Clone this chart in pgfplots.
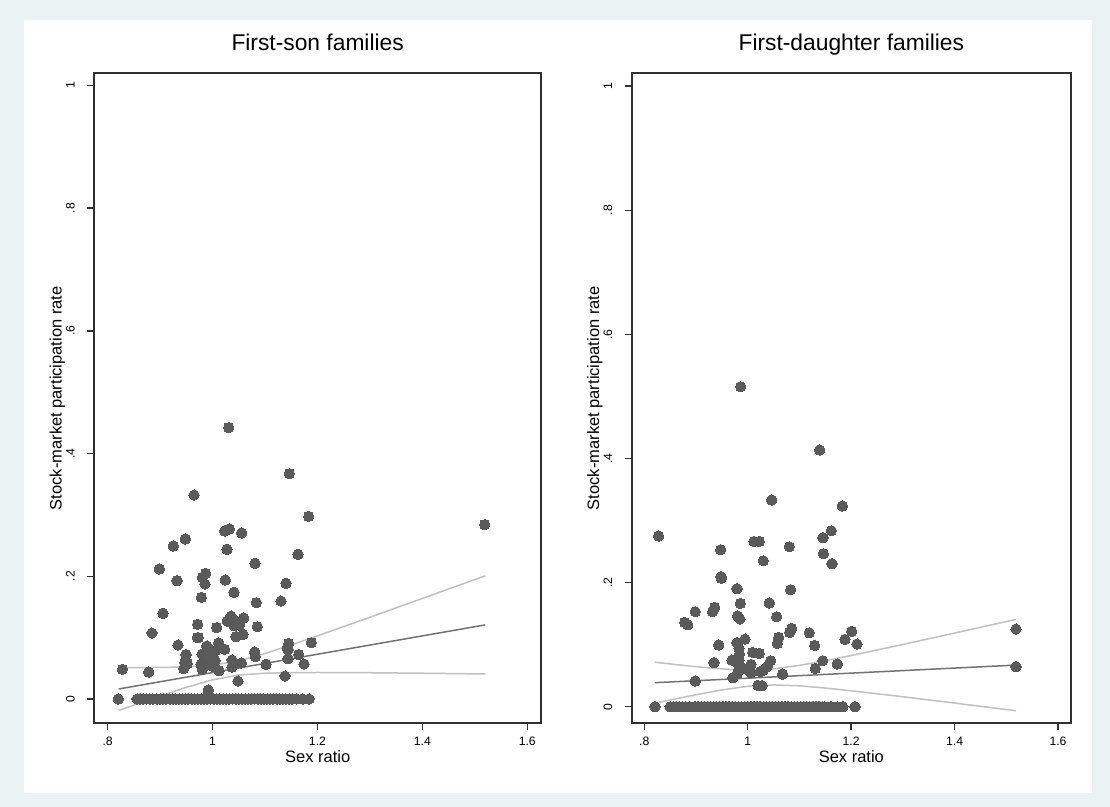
\documentclass[border=0pt]{standalone}
\usepackage{pgfplots}
\pgfplotsset{compat=1.18}
\usepackage{fontspec}
\setmainfont{Liberation Sans}
\definecolor{outerbg}{HTML}{EAF2F3}
\definecolor{markgray}{HTML}{5A5A5A}
\definecolor{fitgray}{HTML}{727272}
\definecolor{cigray}{HTML}{C0C0C0}
\definecolor{framegray}{HTML}{303030}

\pgfplotsset{
  statapanel/.style={
    scale only axis,
    anchor=south west,
    height=325pt,
    axis line style={framegray, line width=0.8pt},
    tick align=outside,
    tick pos=left,
    major tick length=3.5pt,
    every tick/.style={framegray, line width=0.7pt},
    xtick={0.8,1,1.2,1.4,1.6},
    xticklabels={.8,1,1.2,1.4,1.6},
    ytick={0,0.2,0.4,0.6,0.8,1},
    yticklabels={0,.2,.4,.6,.8,1},
    /pgf/number format/assume math mode=true,
    ticklabel style={font=\fontsize{6.1pt}{7pt}\selectfont, inner sep=0pt, outer sep=0pt},
    xticklabel style={anchor=base, yshift=-7.7pt},
    yticklabel style={rotate=90, anchor=base, yshift=6.3pt},
    title style={font=\fontsize{11.4pt}{13pt}\selectfont, at={(axis description cs:0.5,1)}, anchor=base, yshift=5.2pt, inner sep=0pt},
    xlabel style={font=\fontsize{8.25pt}{9.5pt}\selectfont, at={(axis description cs:0.5,0)}, anchor=base, yshift=-19.7pt, inner sep=0pt},
    ylabel style={font=\fontsize{8.25pt}{9.5pt}\selectfont, at={(axis description cs:0,0.5)}, anchor=base, rotate=0, yshift=16.3pt, inner sep=0pt},
    xlabel={Sex ratio},
    ylabel={Stock-market participation rate},
    clip=false,
  },
  dots/.style={only marks, mark=*, mark size=2.6pt, mark options={fill=markgray, draw=markgray, line width=0pt}},
  ciline/.style={no marks, cigray, line width=0.75pt},
  fitline/.style={no marks, fitgray, line width=0.75pt},
}

\begin{document}
\begin{tikzpicture}
\fill[outerbg] (0,0) rectangle (555pt,403.5pt);
\fill[white] (12pt,7pt) rectangle (546pt,393.5pt);

% ---------------- Left panel ----------------
\begin{axis}[statapanel,
  at={(47.15pt,41.85pt)}, width=223.35pt,
  xmin=0.7745, xmax=1.6262, ymin=-0.0396, ymax=1.0199,
  title={First-son families}]
\addplot[dots] coordinates {
(1.0307,0.4423) (1.1464,0.3673) (0.9646,0.3325) (1.1832,0.2977) (1.5188,0.2842)
(0.9481,0.2608) (0.9252,0.2494) (1.0231,0.2738) (1.0320,0.2771) (1.0555,0.2706)
(1.0275,0.2440) (1.1629,0.2358) (0.8985,0.2119) (1.0809,0.2211) (0.9805,0.1983)
(0.9868,0.2048) (0.9322,0.1929) (1.0243,0.1940) (0.9856,0.1874) (1.1400,0.1885)
(1.0409,0.1739) (0.9786,0.1657) (1.0834,0.1570) (1.1304,0.1597) (0.9055,0.1396)
(1.0352,0.1353) (1.0282,0.1271) (1.0593,0.1320) (1.0466,0.1261) (1.0510,0.1206)
(1.0409,0.1195) (0.9716,0.1217) (1.0078,0.1163) (1.0853,0.1179) (0.8845,0.1076)
(0.9729,0.1000) (1.0447,0.1016) (1.0580,0.1054) (1.1451,0.0907) (1.1883,0.0918)
(1.0116,0.0913) (0.9341,0.0880) (0.9894,0.0864) (1.0059,0.0788) (1.0231,0.0810)
(0.9799,0.0733) (0.9957,0.0717) (0.9494,0.0723) (1.0803,0.0766) (1.1439,0.0799)
(1.1642,0.0723) (1.0815,0.0690) (1.0371,0.0636) (1.0046,0.0625) (1.1439,0.0657)
(0.9856,0.0587) (0.9780,0.0565) (0.9519,0.0576) (1.0548,0.0587) (1.0383,0.0543)
(1.0002,0.0538) (1.1019,0.0565) (1.1743,0.0570) (0.9450,0.0494) (0.9805,0.0484)
(1.0123,0.0462) (0.8280,0.0484) (0.8782,0.0440) (1.1381,0.0375) (1.0485,0.0293)
(0.9919,0.0147) (0.9919,0.0090) (1.1430,0.0850) (0.9888,0.0860) (1.0370,0.0520)
(1.0046,0.0520) (0.9470,0.0600) (0.9710,0.1000)
(0.8203,0) (0.856,0) (0.862,0) (0.868,0) (0.874,0) (0.880,0) (0.886,0)
(0.894,0) (0.900,0) (0.906,0) (0.912,0) (0.918,0) (0.924,0) (0.930,0) (0.936,0)
(0.942,0) (0.948,0) (0.954,0) (0.960,0) (0.966,0) (0.972,0) (0.978,0) (0.984,0)
(0.990,0) (0.996,0) (1.002,0) (1.008,0) (1.014,0) (1.020,0) (1.026,0) (1.032,0)
(1.038,0) (1.044,0) (1.050,0) (1.056,0) (1.062,0) (1.068,0) (1.074,0) (1.080,0)
(1.086,0) (1.092,0) (1.098,0) (1.104,0) (1.110,0) (1.116,0) (1.122,0) (1.128,0)
(1.134,0) (1.140,0) (1.146,0) (1.152,0) (1.160,0) (1.172,0) (1.184,0)
};
\addplot[ciline] coordinates {
(0.821,0.0513) (0.85,0.0512) (0.90,0.0514) (0.95,0.0522) (1.00,0.0550) (1.05,0.0622)
(1.10,0.0741) (1.15,0.0881) (1.20,0.1029) (1.30,0.1332) (1.40,0.1639) (1.52,0.2008)};
\addplot[ciline] coordinates {
(0.821,-0.0187) (0.85,-0.0100) (0.90,0.0048) (0.95,0.0190) (1.00,0.0312) (1.05,0.0390)
(1.10,0.0420) (1.15,0.0429) (1.20,0.0432) (1.30,0.0428) (1.40,0.0420) (1.52,0.0408)};
\addplot[fitline] coordinates {(0.821,0.0163) (1.52,0.1208)};
\end{axis}

% ---------------- Right panel ----------------
\begin{axis}[statapanel,
  at={(315.85pt,41.85pt)}, width=219.65pt,
  xmin=0.7756, xmax=1.6251, ymin=-0.0267, ymax=1.0207,
  title={First-daughter families}]
\addplot[dots] coordinates {
(0.9863,0.5157) (1.1391,0.4136) (1.0463,0.3330) (1.1829,0.3234) (0.8277,0.2750)
(1.1616,0.2836) (1.1455,0.2723) (1.1462,0.2466) (1.1629,0.2304) (1.0121,0.2664)
(1.0224,0.2664) (1.0804,0.2578) (0.9476,0.2530) (1.0301,0.2353) (0.9480,0.2095)
(0.9490,0.2070) (0.9792,0.1901) (1.0830,0.1885) (0.9857,0.1665) (1.0417,0.1671)
(0.9360,0.1601) (0.9320,0.1531) (0.8986,0.1531) (0.9805,0.1461) (0.9850,0.1413)
(1.0559,0.1450) (0.8780,0.1359) (0.8840,0.1321) (1.0850,0.1262) (1.0810,0.1198)
(1.1190,0.1192) (1.5188,0.1252) (1.2010,0.1214) (1.1881,0.1085) (1.2113,0.1010)
(1.0598,0.1117) (1.0572,0.1021) (1.1294,0.0988) (0.9947,0.1090) (0.9438,0.0994)
(0.9790,0.1031) (0.9830,0.0940) (0.9840,0.0849) (1.0095,0.0876) (1.0224,0.0859)
(1.1449,0.0741) (1.1732,0.0688) (1.0443,0.0741) (1.0372,0.0645) (0.9347,0.0709)
(0.9695,0.0752) (0.9830,0.0752) (0.9820,0.0671) (0.9920,0.0618) (1.0018,0.0591)
(1.0063,0.0682) (1.0063,0.0548) (1.0243,0.0564) (1.0300,0.0591) (1.1307,0.0618)
(1.0675,0.0526) (0.9799,0.0537) (0.9715,0.0467) (1.5188,0.0645) (0.8986,0.0414)
(1.0198,0.0344) (1.0276,0.0338)
(0.8206,0) (0.850,0) (0.856,0) (0.862,0) (0.868,0) (0.874,0) (0.880,0) (0.888,0)
(0.898,0) (0.904,0) (0.910,0) (0.916,0) (0.922,0) (0.928,0) (0.934,0) (0.940,0)
(0.946,0) (0.952,0) (0.958,0) (0.964,0) (0.970,0) (0.976,0) (0.982,0) (0.988,0)
(0.994,0) (1.000,0) (1.006,0) (1.012,0) (1.018,0) (1.024,0) (1.030,0) (1.036,0)
(1.042,0) (1.048,0) (1.054,0) (1.060,0) (1.066,0) (1.072,0) (1.078,0) (1.084,0)
(1.090,0) (1.096,0) (1.102,0) (1.108,0) (1.114,0) (1.120,0) (1.126,0) (1.132,0)
(1.138,0) (1.144,0) (1.149,0) (1.161,0) (1.173,0) (1.184,0) (1.2074,0)
};
\addplot[ciline] coordinates {
(0.8206,0.0717) (0.85,0.0689) (0.90,0.0645) (0.95,0.0609) (1.00,0.0591) (1.05,0.0609)
(1.10,0.0666) (1.15,0.0741) (1.20,0.0825) (1.30,0.1003) (1.40,0.1187) (1.5188,0.1407)};
\addplot[ciline] coordinates {
(0.8206,0.0057) (0.85,0.0109) (0.90,0.0193) (0.95,0.0271) (1.00,0.0329) (1.05,0.0351)
(1.10,0.0337) (1.15,0.0301) (1.20,0.0257) (1.30,0.0161) (1.40,0.0059) (1.5188,-0.0065)};
\addplot[fitline] coordinates {(0.8206,0.0387) (1.5188,0.0671)};
\end{axis}
\end{tikzpicture}
\end{document}
